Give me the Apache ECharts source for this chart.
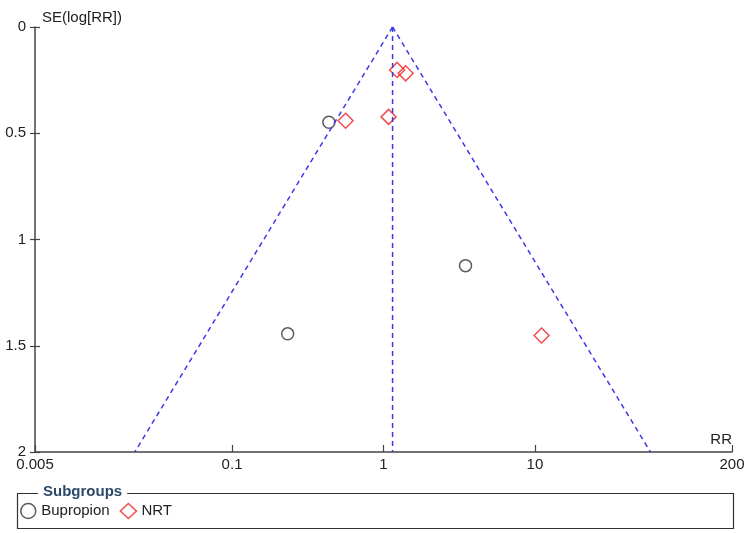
<!DOCTYPE html>
<html>
<head>
<meta charset="utf-8">
<script src="https://cdn.jsdelivr.net/npm/echarts@6/dist/echarts.min.js"></script>
<style>
html,body{margin:0;padding:0;background:#fff;}
#chart{width:752px;height:533px;}
</style>
</head>
<body>
<div id="chart"></div>
<script>
// Data
const xTickValues = [0.005, 0.1, 1, 10, 200];
const xTickLabels = ['0.005', '0.1', '1', '10', '200'];
const yTickValues = [0, 0.5, 1, 1.5, 2];

// Bupropion studies: [RR, SE(log RR)]
const bupropionRR = [0.436, 3.48, 0.233];
const bupropionSE = [0.448, 1.123, 1.444];
// NRT studies
const nrtRR = [1.23, 1.40, 0.562, 1.08, 11.06];
const nrtSE = [0.202, 0.218, 0.441, 0.423, 1.452];

// Funnel: pooled RR at apex, limits at SE = 2
const pooledRR = 1.148;
const funnelLowerRR = 0.0228;
const funnelUpperRR = 57.9;
const funnelSE = [0, 2];

const font = '"Liberation Sans", Arial, sans-serif';
const fs = 15;
const textColor = '#222';
const axisColor = '#444';
const funnelColor = '#3a3ae8';

const chart = echarts.init(document.getElementById('chart'));

const bupData = bupropionRR.map((v, i) => [v, bupropionSE[i]]);
const nrtData = nrtRR.map((v, i) => [v, nrtSE[i]]);

function labelFor(v) {
  let best = 0, bd = Infinity;
  xTickValues.forEach((t, i) => {
    const d = Math.abs(Math.log10(v) - Math.log10(t));
    if (d < bd) { bd = d; best = i; }
  });
  return bd < 0.01 ? xTickLabels[best] : '';
}

const dashed = { color: funnelColor, width: 1.5, type: [5, 4] };

const option = {
  animation: false,
  backgroundColor: '#fff',
  textStyle: { fontFamily: font },
  grid: { left: 35, right: 20, top: 27, bottom: 81, containLabel: false },
  xAxis: {
    type: 'log',
    logBase: 10,
    min: 0.005,
    max: 200,
    axisLine: { show: true, onZero: false, lineStyle: { color: axisColor, width: 1.5 } },
    axisTick: { show: true, inside: true, length: 7, lineStyle: { color: axisColor, width: 1.2 }, customValues: xTickValues },
    axisLabel: {
      show: true, customValues: xTickValues, formatter: labelFor,
      color: textColor, fontSize: fs, fontFamily: font, margin: 5,
      showMinLabel: true, showMaxLabel: true
    },
    splitLine: { show: false },
    minorTick: { show: false }
  },
  yAxis: [{
    type: 'value',
    inverse: true,
    min: 0, max: 2, interval: 0.5,
    axisLine: { show: true, onZero: false, lineStyle: { color: axisColor, width: 1.5 } },
    axisTick: { show: true, inside: false, length: 5, lineStyle: { color: axisColor, width: 1.2 } },
    axisLabel: { color: textColor, fontSize: fs, fontFamily: font, margin: 9 },
    splitLine: { show: false }
  }, {
    type: 'value',
    position: 'left',
    inverse: true,
    min: 0, max: 2, interval: 0.5,
    axisLine: { show: false, onZero: false },
    axisTick: { show: true, inside: true, length: 5, lineStyle: { color: axisColor, width: 1.2 } },
    axisLabel: { show: false },
    splitLine: { show: false }
  }],
  legend: {
    left: 20, top: 502, padding: 0,
    itemWidth: 16, itemHeight: 15, itemGap: 10,
    textStyle: { color: textColor, fontSize: fs, fontFamily: font, lineHeight: 18, verticalAlign: 'middle' },
    data: [
      { name: 'Bupropion', icon: 'circle', itemStyle: { color: 'transparent', borderColor: '#333', borderWidth: 1.5 } },
      { name: 'NRT', icon: 'diamond', itemStyle: { color: 'transparent', borderColor: '#f02020', borderWidth: 1.5 } }
    ]
  },
  graphic: [
    { type: 'rect', left: 15, top: 491, shape: { width: 716, height: 35 }, style: { fill: 'none', stroke: '#333', lineWidth: 1.2 }, silent: true },
    { type: 'text', left: 38, top: 484, style: { text: 'Subgroups', fill: '#2b4a6a', font: 'bold ' + fs + 'px ' + font, backgroundColor: '#fff', padding: [0, 5] }, silent: true },
    { type: 'text', left: 42, top: 10, style: { text: 'SE(log[RR])', fill: textColor, font: fs + 'px ' + font }, silent: true },
    { type: 'text', right: 20, top: 432, style: { text: 'RR', fill: textColor, font: fs + 'px ' + font }, silent: true }
  ],
  series: [
    { name: 'funnelL', type: 'line', data: [[pooledRR, funnelSE[0]], [funnelLowerRR, funnelSE[1]]], symbol: 'none', lineStyle: dashed, silent: true },
    { name: 'funnelR', type: 'line', data: [[pooledRR, funnelSE[0]], [funnelUpperRR, funnelSE[1]]], symbol: 'none', lineStyle: dashed, silent: true },
    { name: 'funnelC', type: 'line', data: [[pooledRR, funnelSE[0]], [pooledRR, funnelSE[1]]], symbol: 'none', lineStyle: dashed, silent: true },
    { name: 'Bupropion', type: 'scatter', data: bupData, symbol: 'circle', symbolSize: 12,
      itemStyle: { color: 'transparent', borderColor: '#333', borderWidth: 1.5 } },
    { name: 'NRT', type: 'scatter', data: nrtData, symbol: 'diamond', symbolSize: 15,
      itemStyle: { color: 'transparent', borderColor: '#f02020', borderWidth: 1.5 } }
  ]
};
chart.setOption(option);
</script>
</body>
</html>
